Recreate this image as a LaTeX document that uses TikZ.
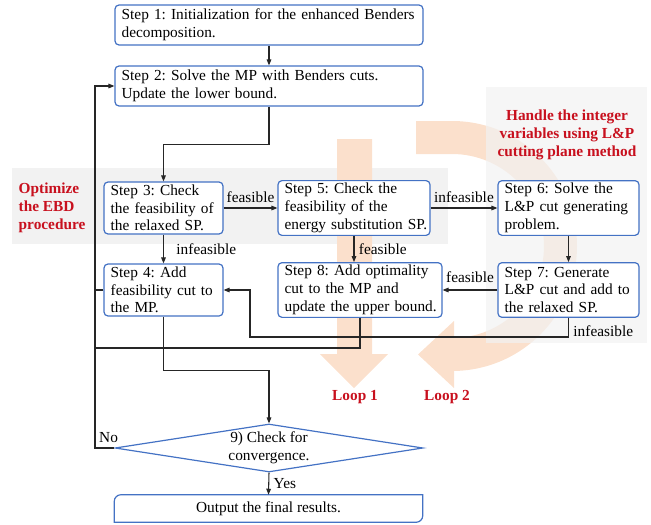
\documentclass[tikz,border=0pt]{standalone}
\usepackage{fontspec}
\setmainfont{Liberation Serif}
\frenchspacing
\usetikzlibrary{positioning,arrows.meta,shapes.geometric}
\definecolor{BoxBlue}{RGB}{68,114,196}
\definecolor{LoopPeach}{RGB}{251,224,204}
\definecolor{BandGrey}{RGB}{242,242,242}
\definecolor{NoteRed}{RGB}{200,16,30}

\begin{document}
\begin{tikzpicture}[x=0.75pt, y=-0.75pt,
  every node/.style={font=\fontsize{11.5}{13.3}\selectfont},
  stepbox/.style={draw=BoxBlue, line width=0.9pt, rounded corners=3pt, fill=white, align=left, inner xsep=5pt, inner ysep=2pt},
  link/.style={draw=black!85, line width=0.8pt},
  arr/.style={link, -{Triangle[length=4.5pt,width=3.5pt]}},
  note/.style={text=NoteRed, font=\fontsize{11.5}{13.3}\selectfont\bfseries}]
  \useasboundingbox (0,0) rectangle (651,525);

  % shaded bands and loop arrows
  \fill[BandGrey] (12,168) rectangle (448,244);
  \fill[LoopPeach] (337,139) -- (372,139) -- (372,354) -- (388,354) -- (354,388) -- (320,354) -- (337,354) -- cycle;
  \fill[LoopPeach] (416,121) -- (452,121) arc[start angle=90, end angle=-90, radius=93.75pt] -- (454,371) -- (454,388)
    -- (418,354.5) -- (454,321) -- (454,338) -- (452,338) arc[start angle=-90, end angle=90, radius=69pt] -- (416,154) -- cycle;
  \fill[BandGrey, fill opacity=0.7] (486,87) rectangle (647,343);

  \node[note, align=left, anchor=west] (ebd) at (14,208) {Optimize\\the EBD\\procedure};
  \node[note, align=center] (lp) at (567,135) {Handle the integer\\variables using L\&P\\cutting plane method};
  \node[note] (loop1) at (355,397) {Loop 1};
  \node[note] (loop2) at (447,397) {Loop 2};

  % steps
  \node[stepbox, text width=221pt, minimum height=30pt] (s1) at (269,25) {Step 1: Initialization for the enhanced Benders\\decomposition.};
  \node[stepbox, text width=221pt, minimum height=30pt] (s2) at (269,86) {Step 2: Solve the MP with Benders cuts.\\Update the lower bound.};
  \node[stepbox, text width=79.25pt, minimum height=39pt] (s3) at (163.5,208) {Step 3: Check\\the feasibility of\\the relaxed SP.};
  \node[stepbox, text width=79.25pt, minimum height=39pt] (s4) at (163.5,290) {Step 4: Add\\feasibility cut to\\the MP.};
  \node[stepbox, text width=104pt, minimum height=39pt] (s5) at (354,208) {Step 5: Check the\\feasibility of the\\\mbox{energy substitution SP.}};
  \node[stepbox, text width=95.75pt, minimum height=39pt] (s6) at (568.5,208) {Step 6: Solve the\\L\&P cut generating\\problem.};
  \node[stepbox, text width=95.75pt, minimum height=41pt] (s7) at (568.5,290) {Step 7: Generate\\L\&P cut and add to\\the relaxed SP.};
  \node[stepbox, text width=113pt, minimum height=40.5pt] (s8) at (360,290) {Step 8: Add optimality\\cut to the MP and\\\mbox{update the upper bound.}};
  \node[draw=BoxBlue, line width=0.9pt, diamond, aspect=6.4, minimum width=231pt, minimum height=36pt, inner sep=0pt, align=center] (chk) at (269,448) {9) Check for\\convergence.};
  \node[minimum width=231pt, minimum height=20.25pt] (out) at (268.5,508.5) {Output the final results.};
  \draw[BoxBlue, line width=0.9pt] (out.south west) -- ([yshift=-5pt]out.north west) arc[start angle=180, end angle=90, radius=5pt]
    -- (out.north east) -- ([yshift=5pt]out.south east) arc[start angle=0, end angle=-90, radius=5pt] -- cycle;

  \coordinate (jB) at (250,337);
  \coordinate (jC) at (95,348);
  \coordinate (fbBot) at (95,448);

  % connectors
  \draw[arr] (s1) -- (s2);
  \draw[arr] (s2.south) -- ++(0,38) -| (s3.north);
  \draw[arr] (s3) -- node[above] {feasible} (s5);
  \draw[arr] (s5) -- node[above] {infeasible} (s6);
  \draw[arr] (s3) -- node[right, xshift=6pt] {infeasible} (s4);
  \draw[arr] (s5.south) -- node[right] {feasible} (s5.south |- s8.north);
  \draw[arr] (s6) -- (s7);
  \draw[arr] (s7) -- node[above, yshift=2pt] {feasible} (s8);
  \draw[arr] (s7.south) -- node[right, pos=0.7] {infeasible} (s7.south |- jB) -- (jB) |- (s4.east);
  \draw[link] (s8.south) |- (jC);
  \draw[link] (s4.west) -- (s4.west -| jC);
  \draw[arr] (s4.south) -- ++(0,54) -| (chk.north);
  \draw[arr] (chk.west) -- node[above, pos=0.3] {No} (fbBot) |- (s2.west);
  \draw[arr] (chk.south) -- node[right] {Yes} (out.north);
\end{tikzpicture}
\end{document}
